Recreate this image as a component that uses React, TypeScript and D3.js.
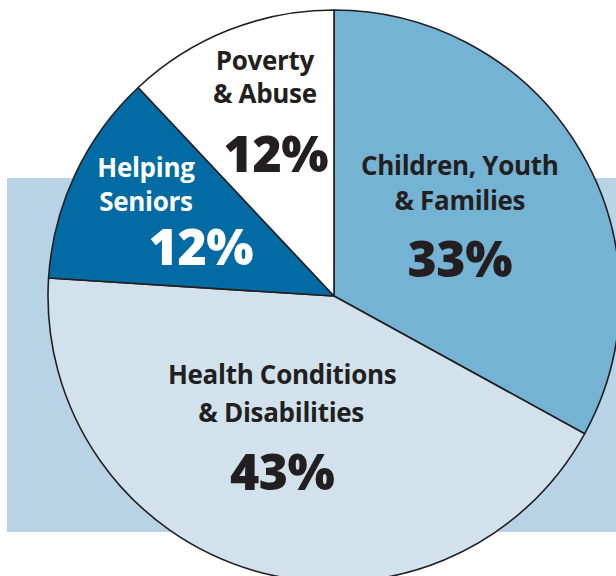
import React from "react";
import * as d3 from "d3";

const WIDTH = 616;
const HEIGHT = 576;
const CX = 334;
const CY = 296;
const RADIUS = 286;

// slice data, clockwise from 12 o'clock
const categories = [
  "Children, Youth & Families",
  "Health Conditions & Disabilities",
  "Helping Seniors",
  "Poverty & Abuse",
];
const shares = [33, 43, 12, 12];
const labelLines = [
  ["Children, Youth", "& Families"],
  ["Health Conditions", "& Disabilities"],
  ["Helping", "Seniors"],
  ["Poverty", "& Abuse"],
];
const fills = ["#74b3d4", "#d1e2ed", "#036ba3", "#ffffff"];
const textColors = ["#231f20", "#231f20", "#ffffff", "#231f20"];

// where each text block sits: radius of its anchor, then per-line nudges
const labelLayout = [
  { r: 145, lines: [[1, -47], [1, -12]], pct: [1, 55] },
  { r: 150, lines: [[-10, -56], [-11, -18]], pct: [-10, 50] },
  { r: 178, lines: [[-27, -43], [-27, -9]], pct: [28, 45] },
  { r: 196, lines: [[3, -44], [3, -11]], pct: [14, 58] },
];

interface Slice {
  name: string;
  value: number;
  index: number;
}

const App = () => {
  const data: Slice[] = categories.map((name, i) => ({
    name,
    value: shares[i],
    index: i,
  }));

  const pie = d3
    .pie<Slice>()
    .sort(null)
    .value((d) => d.value);

  const arcs = pie(data);

  const arc = d3
    .arc<d3.PieArcDatum<Slice>>()
    .innerRadius(0)
    .outerRadius(RADIUS);

  const labelArc = (d: d3.PieArcDatum<Slice>, r: number) =>
    d3
      .arc<d3.PieArcDatum<Slice>>()
      .innerRadius(r)
      .outerRadius(r)
      .centroid(d);

  return (
    <svg
      width={WIDTH}
      height={HEIGHT}
      style={{ position: "absolute", left: 0, top: 0, background: "#fff" }}
      fontFamily="'Open Sans', sans-serif"
    >
      <rect x={7} y={178} width={WIDTH - 7} height={354} fill="#b8d3e5" />
      <g transform={`translate(${CX},${CY})`}>
        {arcs.map((d) => (
          <path
            key={d.data.name}
            d={arc(d) || ""}
            fill={fills[d.data.index]}
            stroke="#231f20"
            strokeWidth={1.6}
            strokeLinejoin="round"
          />
        ))}
        {arcs.map((d) => {
          const i = d.data.index;
          const lay = labelLayout[i];
          const [ax, ay] = labelArc(d, lay.r);
          return (
            <g
              key={`label-${d.data.name}`}
              textAnchor="middle"
              fill={textColors[i]}
            >
              {labelLines[i].map((line, j) => (
                <text
                  key={line}
                  x={ax + lay.lines[j][0]}
                  y={ay + lay.lines[j][1]}
                  fontSize={26}
                  fontWeight={700}
                  letterSpacing={-0.3}
                >
                  {line}
                </text>
              ))}
              <text
                x={ax + lay.pct[0]}
                y={ay + lay.pct[1]}
                fontSize={50}
                fontWeight={800}
                letterSpacing={-0.5}
              >
                {`${d.data.value}%`}
              </text>
            </g>
          );
        })}
      </g>
    </svg>
  );
};

export default App;
